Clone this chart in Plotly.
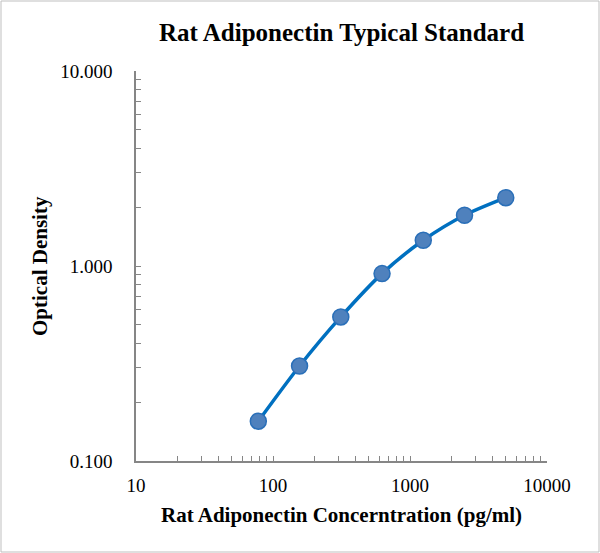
import plotly.graph_objects as go

# standard curve data
concentration = [78.125, 156.25, 312.5, 625, 1250, 2500, 5000]
optical_density = [0.160, 0.307, 0.548, 0.914, 1.355, 1.82, 2.24]

x_tick_labels = ["10", "100", "1000", "10000"]
y_tick_labels = ["0.100", "1.000", "10.000"]

FONT = "Liberation Serif, Times New Roman, serif"
AXIS_GRAY = "#868686"

W, H = 600, 553
L, R, T, B = 136, 53, 71, 92


def log_ticks(decades):
    vals, text = [], []
    for i, d in enumerate(decades):
        for k in range(1, 10):
            if i == len(decades) - 1 and k > 1:
                break
            vals.append(k * d)
            text.append("")
    return vals, text


xvals, xtext = log_ticks([10, 100, 1000, 10000])
for v, lab in zip([10, 100, 1000, 10000], x_tick_labels):
    xtext[xvals.index(v)] = lab
yvals, ytext = log_ticks([0.1, 1, 10])
for v, lab in zip([0.1, 1, 10], y_tick_labels):
    ytext[yvals.index(v)] = lab

fig = go.Figure(go.Scatter(
    x=concentration,
    y=optical_density,
    mode="lines+markers",
    line=dict(color="#0070C0", width=3.5, shape="spline", smoothing=0.8),
    marker=dict(size=16, color="#4F81BD", line=dict(color="#2A6FB8", width=1.5)),
    showlegend=False,
))

fig.update_xaxes(
    type="log", range=[1, 4],
    tickvals=xvals, ticktext=xtext,
    ticks="inside", ticklen=5, tickcolor=AXIS_GRAY, tickwidth=1,
    showline=True, linecolor=AXIS_GRAY, linewidth=1.5,
    showgrid=False, zeroline=False,
    ticklabelstandoff=6,
    tickfont=dict(family=FONT, size=19, color="black"),
)
fig.update_yaxes(
    type="log", range=[-1, 1],
    tickvals=yvals, ticktext=ytext,
    ticks="inside", ticklen=5, tickcolor=AXIS_GRAY, tickwidth=1,
    showline=True, linecolor=AXIS_GRAY, linewidth=1.5,
    showgrid=False, zeroline=False,
    ticklabelstandoff=18,
    tickfont=dict(family=FONT, size=19, color="black"),
)

pw = W - L - R
ph = H - T - B

fig.update_layout(
    width=W, height=H,
    margin=dict(l=L, r=R, t=T, b=B),
    plot_bgcolor="white",
    paper_bgcolor="white",
    annotations=[
        dict(text="<b>Rat Adiponectin Typical Standard</b>", xref="paper", yref="paper",
             x=0.5, y=1 + (T - 33) / ph, yanchor="middle", showarrow=False,
             font=dict(family=FONT, size=25, color="black")),
        dict(text="<b>Rat Adiponectin Concerntration (pg/ml)</b>", xref="paper", yref="paper",
             x=0.5, y=-(515 - (H - B)) / ph, yanchor="middle", showarrow=False,
             font=dict(family=FONT, size=21, color="black")),
        dict(text="<b>Optical Density</b>", xref="paper", yref="paper",
             x=-(L - 40) / pw, y=0.5, xanchor="center", yanchor="middle", textangle=-90,
             showarrow=False, font=dict(family=FONT, size=21, color="black")),
    ],
    shapes=[
        dict(type="rect", xref="paper", yref="paper",
             x0=-(L - 1) / pw, x1=1 + (R - 1) / pw,
             y0=-(B - 1) / ph, y1=1 + (T - 1) / ph,
             line=dict(color="#BFBFBF", width=1)),
    ],
)

fig.write_html("out.html", config={"displayModeBar": False},
               post_script="document.body.style.margin = '0';")
